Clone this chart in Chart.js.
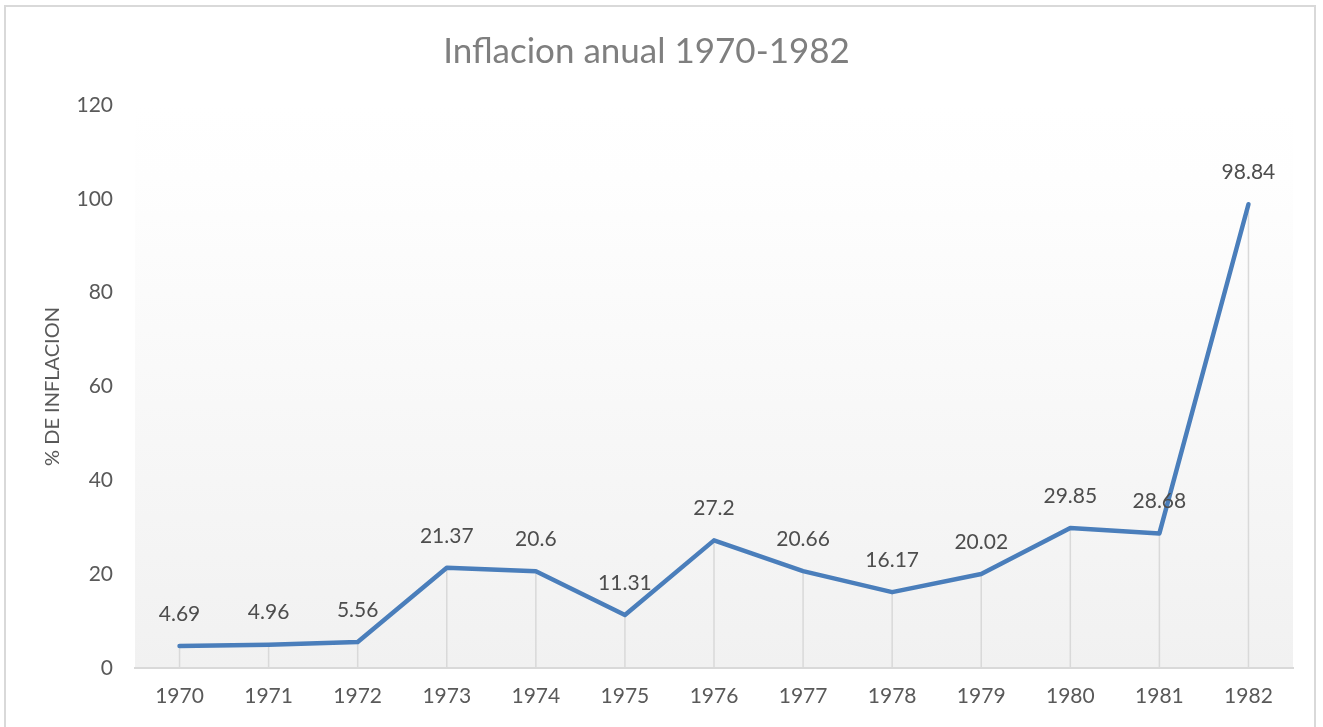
<!DOCTYPE html>
<html>
<head>
<meta charset="utf-8">
<script src="https://cdn.jsdelivr.net/npm/chart.js@4"></script>
<style>
  body { margin: 0; background: #ffffff; }
  #wrap { position: relative; width: 1323px; height: 727px; overflow: hidden; }
  #frame { position: absolute; left: 4px; top: 5px; width: 1312px; height: 740px; border: 2px solid #d9d9d9; box-sizing: border-box; pointer-events: none; }
  canvas { position: absolute; left: 0; top: 0; }
</style>
</head>
<body>
<div id="wrap">
  <canvas id="inflacion-chart" width="1323" height="727"></canvas>
  <div id="frame"></div>
</div>
<script>
const years = ["1970", "1971", "1972", "1973", "1974", "1975", "1976", "1977", "1978", "1979", "1980", "1981", "1982"];
const inflacion = [4.69, 4.96, 5.56, 21.37, 20.6, 11.31, 27.2, 20.66, 16.17, 20.02, 29.85, 28.68, 98.84];
const yTicks = [0, 20, 40, 60, 80, 100, 120];

const fontFamily = "Lato, 'Open Sans', sans-serif";

// fondo degradado del area del grafico
const fondoPlugin = {
  id: "fondo",
  beforeDraw(chart) {
    const { ctx, chartArea } = chart;
    const g = ctx.createLinearGradient(0, chartArea.top, 0, chartArea.bottom);
    g.addColorStop(0, "#ffffff");
    g.addColorStop(0.13, "#fefefe");
    g.addColorStop(1, "#f1f1f1");
    ctx.save();
    ctx.fillStyle = g;
    ctx.fillRect(chartArea.left, chartArea.top, chartArea.right - chartArea.left, chartArea.bottom - chartArea.top);
    ctx.restore();
  },
};

// lineas de caida desde cada punto hasta el eje
const caidaPlugin = {
  id: "caida",
  beforeDatasetsDraw(chart) {
    const { ctx } = chart;
    const yScale = chart.scales.y;
    const meta = chart.getDatasetMeta(0);
    ctx.save();
    ctx.strokeStyle = "#d9d9d9";
    ctx.lineWidth = 1.5;
    meta.data.forEach((pt) => {
      ctx.beginPath();
      ctx.moveTo(pt.x, yScale.getPixelForValue(0));
      ctx.lineTo(pt.x, pt.y);
      ctx.stroke();
    });
    ctx.restore();
  },
};

// etiquetas de datos encima de cada punto
const etiquetasPlugin = {
  id: "etiquetas",
  afterDatasetsDraw(chart) {
    const { ctx } = chart;
    const meta = chart.getDatasetMeta(0);
    ctx.save();
    ctx.font = "21px " + fontFamily;
    ctx.fillStyle = "#4d4d4d";
    ctx.textAlign = "center";
    ctx.textBaseline = "middle";
    meta.data.forEach((pt, i) => {
      ctx.fillText(String(inflacion[i]), pt.x, pt.y - 32);
    });
    ctx.restore();
  },
};

new Chart(document.getElementById("inflacion-chart"), {
  type: "line",
  data: {
    labels: years,
    datasets: [
      {
        label: "Inflacion",
        data: inflacion,
        borderColor: "#4a7ebb",
        borderWidth: 4.5,
        borderJoinStyle: "round",
        borderCapStyle: "round",
        pointRadius: 0,
        fill: false,
        tension: 0,
      },
    ],
  },
  options: {
    responsive: false,
    animation: false,
    layout: {
      padding: { left: 0, right: 30, top: 0, bottom: 0 },
    },
    plugins: {
      legend: { display: false },
      tooltip: { enabled: false },
      title: {
        display: true,
        text: "Inflacion anual 1970-1982",
        color: "#7f7f7f",
        font: { family: fontFamily, size: 35, weight: "normal" },
        padding: { top: 31, bottom: 32 },
      },
    },
    scales: {
      x: {
        offset: true,
        grid: { display: false, drawTicks: false },
        border: { display: true, color: "#d9d9d9", width: 2 },
        ticks: {
          color: "#595959",
          font: { family: fontFamily, size: 21 },
          padding: 16,
          maxRotation: 0,
        },
        afterFit(scale) {
          scale.height = 59;
        },
      },
      y: {
        min: 0,
        max: 120,
        afterBuildTicks(scale) {
          scale.ticks = yTicks.map((v) => ({ value: v }));
        },
        grid: { display: false, drawTicks: false },
        border: { display: false },
        ticks: {
          color: "#595959",
          font: { family: fontFamily, size: 21 },
          padding: 22,
        },
        title: {
          display: true,
          text: "% DE INFLACION",
          color: "#595959",
          font: { family: fontFamily, size: 20 },
          padding: { top: 41, bottom: 0 },
        },
        afterFit(scale) {
          scale.width = 135;
        },
      },
    },
  },
  plugins: [fondoPlugin, caidaPlugin, etiquetasPlugin],
});
</script>
</body>
</html>
